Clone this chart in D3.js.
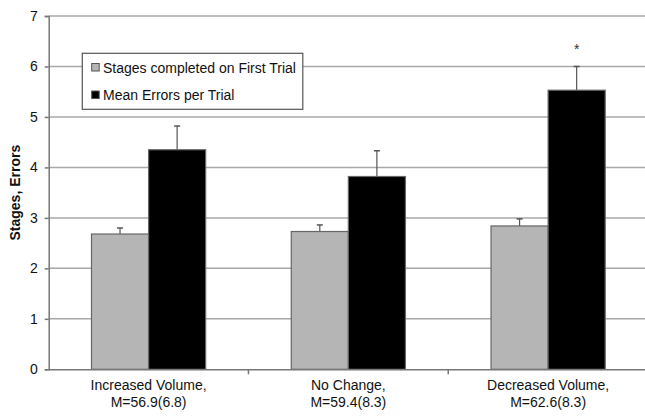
<!DOCTYPE html>
<html><head><meta charset="utf-8">
<script src="https://cdn.jsdelivr.net/npm/d3@7"></script>
<style>body{margin:0;background:#fff}svg{display:block}</style>
</head><body>
<svg id="c" width="645" height="416"></svg>
<script>
const categories = ["Increased Volume,|M=56.9(6.8)", "No Change,|M=59.4(8.3)", "Decreased Volume,|M=62.6(8.3)"];
const seriesNames = ["Stages completed on First Trial", "Mean Errors per Trial"];
const stagesValues = [2.68, 2.73, 2.84];
const stagesErrors = [0.12, 0.13, 0.14];
const errorsValues = [4.35, 3.82, 5.53];
const errorsErrors = [0.47, 0.51, 0.47];
const significant = [false, false, true];
const yTicks = [0, 1, 2, 3, 4, 5, 6, 7];

const svg = d3.select("#c");
const font = "Liberation Sans, Arial, sans-serif";
const y = d3.scaleLinear().domain([0, 7]).range([369.3, 16]);
const x0 = d3.scaleBand().domain(categories).range([48.7, 648]).padding(0);
const x1 = d3.scaleBand().domain(seriesNames).range([0, x0.bandwidth()]).paddingInner(0).paddingOuter(0.75);
const colors = ["#b5b5b5", "#000000"];

// gridlines
svg.append("g").selectAll("line").data(yTicks.filter(d => d > 0)).join("line")
  .attr("x1", 48.7).attr("x2", 648).attr("y1", d => y(d)).attr("y2", d => y(d))
  .attr("stroke", "#a8a8a8").attr("stroke-width", 1.5);

// y axis
const yAxis = svg.append("g").attr("transform", "translate(48.7,0)")
  .call(d3.axisLeft(y).tickValues(yTicks).tickSize(4).tickPadding(7).tickFormat(d3.format("d")));
yAxis.select(".domain").attr("stroke", "#777").attr("stroke-width", 1.5);
yAxis.selectAll(".tick line").attr("stroke", "#777").attr("stroke-width", 1.5);
yAxis.selectAll("text").attr("font-family", font).attr("font-size", 14).attr("fill", "#111");

// bars
const data = categories.map((c, i) => ({
  cat: c,
  vals: [
    {s: seriesNames[0], v: stagesValues[i], e: stagesErrors[i], idx: 0},
    {s: seriesNames[1], v: errorsValues[i], e: errorsErrors[i], idx: 1}
  ],
  sig: significant[i]
}));

const groups = svg.append("g").selectAll("g").data(data).join("g")
  .attr("transform", d => `translate(${x0(d.cat)},0)`);

// error bars (drawn behind bars)
groups.selectAll("g.err").data(d => d.vals).join("g").attr("class", "err").each(function(d) {
  const g = d3.select(this);
  const cx = x1(d.s) + x1.bandwidth() / 2;
  g.append("line").attr("x1", cx).attr("x2", cx).attr("y1", y(d.v)).attr("y2", y(d.v + d.e))
    .attr("stroke", "#555").attr("stroke-width", 1.2);
  g.append("line").attr("x1", cx - 3).attr("x2", cx + 3).attr("y1", y(d.v + d.e)).attr("y2", y(d.v + d.e))
    .attr("stroke", "#555").attr("stroke-width", 1.5);
});

groups.selectAll("rect").data(d => d.vals).join("rect")
  .attr("x", d => x1(d.s)).attr("width", x1.bandwidth())
  .attr("y", d => y(d.v)).attr("height", d => y(0) - y(d.v))
  .attr("fill", d => colors[d.idx]).attr("stroke", "#666").attr("stroke-width", 1.2);

// significance asterisk
groups.filter(d => d.sig).append("text")
  .attr("x", d => x1(seriesNames[1]) + x1.bandwidth() / 2)
  .attr("y", d => y(d.vals[1].v + d.vals[1].e) - 12)
  .attr("text-anchor", "middle").attr("font-family", font).attr("font-size", 14).attr("fill", "#333")
  .text("*");

// x axis
const xAxis = svg.append("g").attr("transform", `translate(0,${y(0)})`)
  .call(d3.axisBottom(x0).tickSize(0).tickFormat(""));
xAxis.select(".domain").attr("stroke", "#777").attr("stroke-width", 1.5);
// boundary ticks
svg.append("g").selectAll("line").data(categories.slice(1)).join("line")
  .attr("x1", d => x0(d)).attr("x2", d => x0(d)).attr("y1", y(0)).attr("y2", y(0) + 5)
  .attr("stroke", "#777").attr("stroke-width", 1.5);

// category labels
const labels = svg.append("g").selectAll("text").data(categories).join("text")
  .attr("text-anchor", "middle").attr("font-family", font).attr("font-size", 14).attr("fill", "#111");
labels.each(function(d) {
  const parts = d.split("|");
  const t = d3.select(this);
  parts.forEach((p, i) => t.append("tspan").attr("x", x0(d) + x0.bandwidth() / 2).attr("y", 390 + i * 17).text(p));
});

// y axis title
svg.append("text").attr("transform", `translate(20,${(y(0) + y(7)) / 2}) rotate(-90)`)
  .attr("text-anchor", "middle").attr("font-family", font).attr("font-size", 14).attr("font-weight", "bold")
  .attr("fill", "#111").text("Stages, Errors");

// legend
const lg = svg.append("g");
lg.append("rect").attr("x", 82.3).attr("y", 53.3).attr("width", 220.5).attr("height", 56)
  .attr("fill", "#fff").attr("stroke", "#555").attr("stroke-width", 1.2);
seriesNames.forEach((s, i) => {
  const yy = 67.5 + i * 27.5;
  lg.append("rect").attr("x", 91.7).attr("y", yy - 4).attr("width", 7.5).attr("height", 7.5)
    .attr("fill", colors[i]).attr("stroke", "#555").attr("stroke-width", 1);
  lg.append("text").attr("x", 103).attr("y", yy + 5).attr("font-family", font).attr("font-size", 14)
    .attr("fill", "#111").text(s);
});
</script>
</body></html>
